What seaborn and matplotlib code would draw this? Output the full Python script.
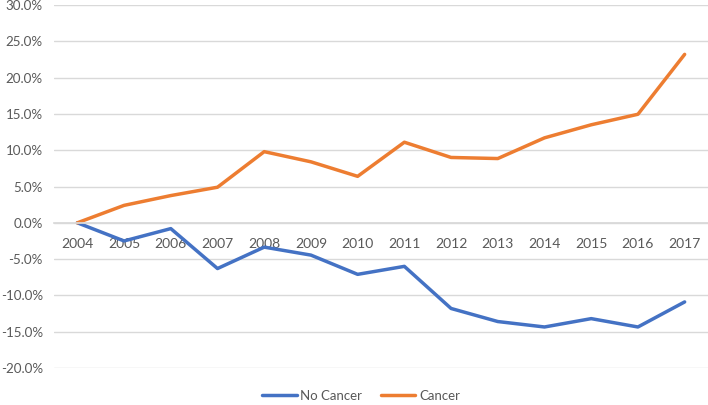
import matplotlib
matplotlib.use("Agg")
import matplotlib.pyplot as plt
import seaborn as sns
import pandas as pd
from matplotlib.ticker import FuncFormatter
from matplotlib.lines import Line2D

years = [2004, 2005, 2006, 2007, 2008, 2009, 2010, 2011, 2012, 2013, 2014, 2015, 2016, 2017]
no_cancer = [0.0, -2.5, -0.8, -6.3, -3.35, -4.45, -7.1, -6.0, -11.8, -13.6, -14.35, -13.2, -14.35, -10.9]
cancer = [0.0, 2.4, 3.75, 4.9, 9.8, 8.4, 6.4, 11.1, 9.0, 8.85, 11.7, 13.5, 14.95, 23.2]
series_names = ["No Cancer", "Cancer"]
colors = ["#4472C4", "#ED7D31"]
yticks = [-20, -15, -10, -5, 0, 5, 10, 15, 20, 25, 30]

df = pd.DataFrame({
    "year": years * 2,
    "value": no_cancer + cancer,
    "series": [series_names[0]] * len(years) + [series_names[1]] * len(years),
})

sns.set_theme(style="white")
plt.rcParams['font.family'] = ['Lato', 'DejaVu Sans']
text_color = "#595959"

fig = plt.figure(figsize=(7.08, 4.05), dpi=100)
ax = fig.add_axes([54/708, 1 - 368/405, 654/708, 363/405])

sns.lineplot(data=df, x="year", y="value", hue="series", palette=colors,
             hue_order=series_names, linewidth=2.5, ax=ax, legend=False)

ax.set_xlim(2003.5, 2017.5)
ax.set_ylim(-20, 30)
ax.set_yticks(yticks)
ax.yaxis.set_major_formatter(FuncFormatter(lambda v, p: f"{v:.1f}%"))
ax.set_xticks(years)
ax.set_xticklabels([str(y) for y in years])
ax.grid(axis="y", color="#D9D9D9", linewidth=1)
ax.set_axisbelow(True)
for s in ["top", "right", "left"]:
    ax.spines[s].set_visible(False)
ax.spines["bottom"].set_position(("data", 0))
ax.spines["bottom"].set_color("#D9D9D9")
ax.tick_params(axis="both", length=0, colors=text_color, labelsize=10)
ax.tick_params(axis="x", pad=11)
ax.tick_params(axis="y", pad=8, labelsize=9.6)
ax.set_xlabel("")
ax.set_ylabel("")

handles = [Line2D([0], [0], color=c, lw=2.5) for c in colors]
fig.legend(handles, series_names, loc="lower center", ncol=2, frameon=False,
           bbox_to_anchor=(0.51, -0.022), fontsize=9.5, labelcolor=text_color,
           handlelength=2.6, handletextpad=0.3, columnspacing=1.4)

fig.savefig("out.png", dpi=100)
